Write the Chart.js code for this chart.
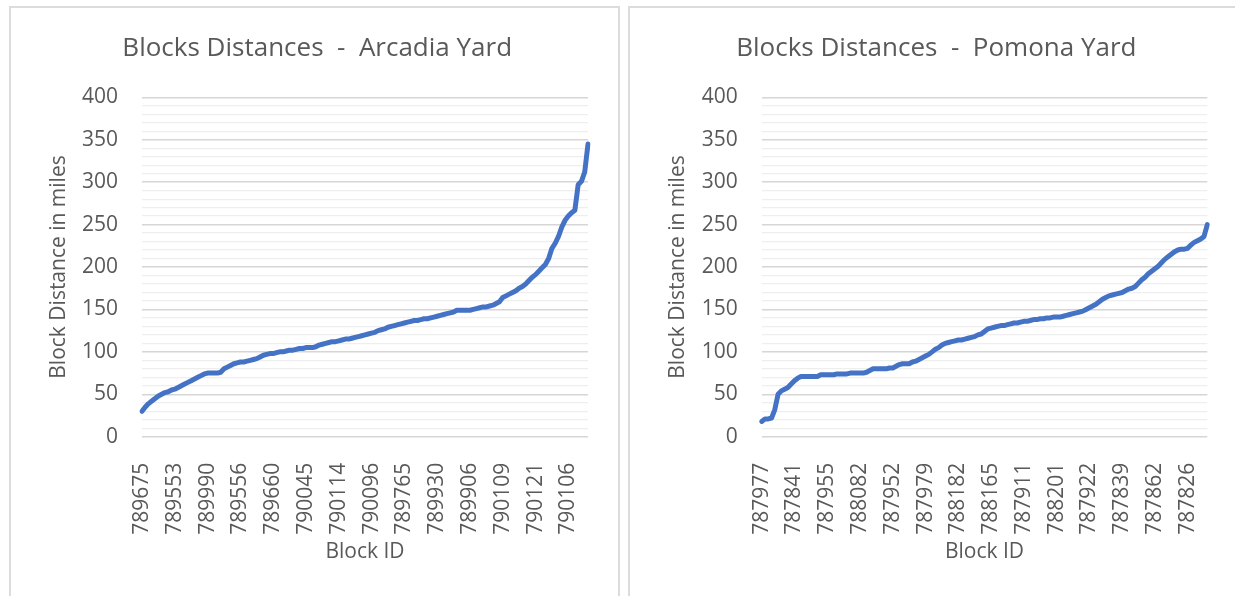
<!DOCTYPE html>
<html><head><meta charset="utf-8">
<script src="https://cdn.jsdelivr.net/npm/chart.js@4/dist/chart.umd.min.js"></script>
<style>
html,body{margin:0;padding:0;background:#fff;overflow:hidden;width:1235px;height:596px}
.panel{position:absolute;border:2px solid #dcdcdc;box-sizing:border-box;background:#fff}
canvas{position:absolute}
</style></head><body>
<div class="panel" style="left:9px;top:6px;width:611px;height:620px"></div>
<div class="panel" style="left:628px;top:6px;width:640px;height:620px"></div>
<canvas id="c1" width="609" height="589" style="left:10px;top:7px"></canvas>
<canvas id="c2" width="606" height="589" style="left:629px;top:7px"></canvas>
<script>
const FONT = "'Open Sans', sans-serif";
const TEXT = '#595959';
const LABEL_EVERY = 10;

const arcadiaTitle = 'Blocks Distances  -  Arcadia Yard';
const arcadiaTickLabels = ['789675','789553','789990','789556','789660','790045','790114','790096','789765','789930','789906','790109','790121','790106'];
const arcadiaDistances = [
  30,35,39,42,45,48,50,52,53,55,
  56,58,60,62,64,66,68,70,72,74,
  75,75,75,75,76,80,82,84,86,87,
  88,88,89,90,91,92,94,96,97,98,
  98,99,100,100,101,102,102,103,104,104,
  105,105,105,106,108,109,110,111,112,112,
  113,114,115,115,116,117,118,119,120,121,
  122,123,125,126,127,129,130,131,132,133,
  134,135,136,137,137,138,139,139,140,141,
  142,143,144,145,146,147,149,149,149,149,
  149,150,151,152,153,153,154,155,157,159,
  164,166,168,170,172,175,177,180,184,188,
  191,195,199,203,210,222,228,236,247,255,
  260,264,267,297,301,312,345
];

const pomonaTitle = 'Blocks Distances  -  Pomona Yard';
const pomonaTickLabels = ['787977','787841','787955','788082','787952','787979','788182','788165','787911','788201','787922','787839','787862','787826'];
const pomonaDistances = [
  18,21,21,22,32,50,54,56,58,62,
  66,69,71,71,71,71,71,71,73,73,
  73,73,73,74,74,74,74,75,75,75,
  75,75,76,78,80,80,80,80,80,81,
  81,83,85,86,86,86,88,89,91,93,
  95,97,100,103,105,108,110,111,112,113,
  114,114,115,116,117,118,120,121,124,127,
  128,129,130,131,131,132,133,134,134,135,
  136,136,137,138,138,139,139,140,140,141,
  141,141,142,143,144,145,146,147,148,150,
  152,154,156,159,162,164,166,167,168,169,
  170,172,174,175,177,181,185,188,192,195,
  198,201,205,209,212,215,218,220,221,221,
  222,226,229,231,233,236,250
];

const yMin = 0, yMax = 400, yMajor = 50, yMinor = 10;
const xTitle = 'Block ID';
const yTitle = 'Block Distance in miles';

function makeChart(id, titleText, tickLabels, values, yAxisWidth, padRight) {
  const labels = values.map((_, i) => i % LABEL_EVERY === 0 ? (tickLabels[i / LABEL_EVERY] || '') : '');
  return new Chart(document.getElementById(id), {
    type: 'line',
    data: {
      labels,
      datasets: [{
        data: values,
        borderColor: '#4472C4',
        borderWidth: 5,
        pointRadius: 0,
        tension: 0,
        fill: false,
        borderJoinStyle: 'round',
        borderCapStyle: 'round'
      }]
    },
    options: {
      responsive: false,
      animation: false,
      devicePixelRatio: 1,
      layout: { padding: { left: 36.4, right: padRight, top: 0, bottom: 31.7 } },
      plugins: {
        legend: { display: false },
        tooltip: { enabled: false },
        title: {
          display: true, text: titleText, color: TEXT,
          font: { family: FONT, size: 26, weight: 'normal', lineHeight: 1.2 },
          padding: { top: 26.4, bottom: 32.7 }
        }
      },
      scales: {
        x: {
          offset: false,
          grid: { display: false },
          border: { display: false },
          ticks: {
            autoSkip: false, minRotation: 90, maxRotation: 90, padding: 18,
            color: TEXT, font: { family: FONT, size: 21 }
          },
          title: { display: true, text: xTitle, color: TEXT, font: { family: FONT, size: 21, lineHeight: 1.2 }, padding: 0 },
          afterFit(s) { s.height = 127.6; s.paddingLeft = 0; s.paddingRight = 0; }
        },
        y: {
          min: yMin, max: yMax,
          grid: {
            drawTicks: false,
            color: c => (c.tick.value % yMajor === 0 ? '#d6d6d6' : '#eeeeee'),
            lineWidth: c => (c.tick.value % yMajor === 0 ? 1.5 : 1.2)
          },
          border: { display: false },
          ticks: {
            stepSize: yMinor, autoSkip: false, padding: 24,
            color: TEXT, font: { family: FONT, size: 21 },
            callback: v => (v % yMajor === 0 ? String(v) : '')
          },
          title: { display: true, text: yTitle, color: TEXT, font: { family: FONT, size: 21, lineHeight: 1.2 }, padding: 0 },
          afterFit(s) { s.width = yAxisWidth; }
        }
      }
    }
  });
}

makeChart('c1', arcadiaTitle, arcadiaTickLabels, arcadiaDistances, 95.6, 31);
makeChart('c2', pomonaTitle, pomonaTickLabels, pomonaDistances, 96.3, 27.7);
</script>
</body></html>
